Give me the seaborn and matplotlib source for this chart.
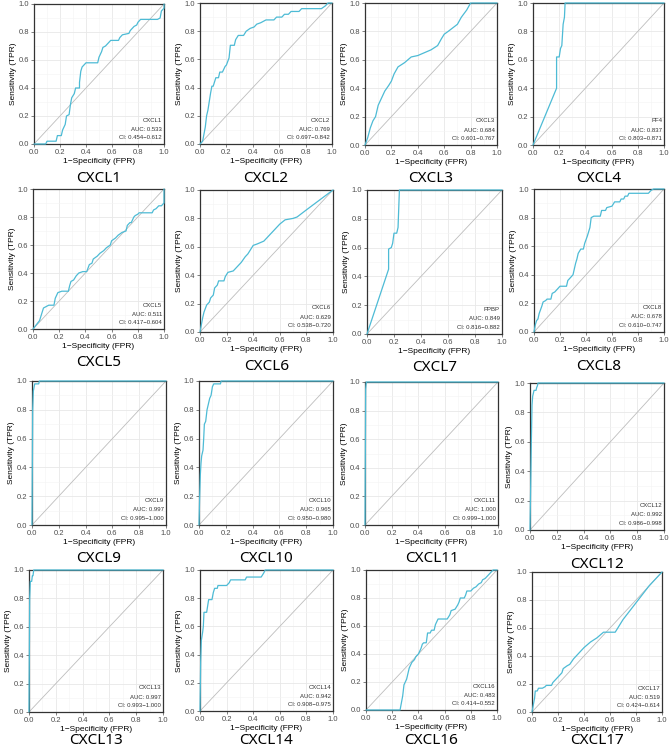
import numpy as np
import pandas as pd
import matplotlib
matplotlib.use("Agg")
import matplotlib.pyplot as plt
import seaborn as sns
from matplotlib.ticker import MultipleLocator, FormatStrFormatter

# panel titles / inner labels / stats
titles = ["CXCL1", "CXCL2", "CXCL3", "CXCL4", "CXCL5", "CXCL6", "CXCL7", "CXCL8",
          "CXCL9", "CXCL10", "CXCL11", "CXCL12", "CXCL13", "CXCL14", "CXCL16", "CXCL17"]
inner = ["CXCL1", "CXCL2", "CXCL3", "PF4", "CXCL5", "CXCL6", "PPBP", "CXCL8",
         "CXCL9", "CXCL10", "CXCL11", "CXCL12", "CXCL13", "CXCL14", "CXCL16", "CXCL17"]
auc = ["0.533", "0.769", "0.684", "0.837", "0.511", "0.629", "0.849", "0.678",
       "0.997", "0.965", "1.000", "0.992", "0.997", "0.942", "0.483", "0.519"]
ci_lo = ["0.454", "0.697", "0.601", "0.803", "0.417", "0.538", "0.816", "0.610",
         "0.995", "0.950", "0.999", "0.986", "0.993", "0.908", "0.414", "0.424"]
ci_hi = ["0.612", "0.842", "0.767", "0.871", "0.604", "0.720", "0.882", "0.747",
         "1.000", "0.980", "1.000", "0.998", "1.000", "0.975", "0.552", "0.614"]

# ROC curves (fpr, tpr)
fpr_1 = [0, 0.09, 0.10, 0.17, 0.18, 0.21, 0.22, 0.24, 0.25, 0.27, 0.28, 0.29, 0.31, 0.32, 0.35, 0.35, 0.36, 0.37, 0.39, 0.40, 0.49, 0.50, 0.52, 0.53, 0.55, 0.57, 0.59, 0.65, 0.66, 0.68, 0.73, 0.74, 0.77, 0.79, 0.80, 0.82, 0.95, 0.97, 0.98, 1.0, 1.0]
tpr_1 = [0, 0, 0.02, 0.02, 0.06, 0.06, 0.10, 0.14, 0.20, 0.21, 0.28, 0.33, 0.36, 0.40, 0.40, 0.44, 0.52, 0.55, 0.57, 0.58, 0.58, 0.62, 0.66, 0.69, 0.70, 0.72, 0.74, 0.74, 0.76, 0.78, 0.79, 0.81, 0.84, 0.85, 0.87, 0.89, 0.89, 0.90, 0.95, 0.97, 1.0]
fpr_2 = [0, 0.02, 0.03, 0.04, 0.05, 0.06, 0.07, 0.08, 0.09, 0.10, 0.11, 0.12, 0.14, 0.15, 0.17, 0.19, 0.20, 0.22, 0.23, 0.26, 0.27, 0.29, 0.33, 0.35, 0.38, 0.41, 0.43, 0.46, 0.50, 0.56, 0.58, 0.62, 0.64, 0.67, 0.69, 0.75, 0.77, 0.92, 0.95, 0.97, 1.0]
tpr_2 = [0, 0.02, 0.07, 0.12, 0.20, 0.24, 0.30, 0.36, 0.41, 0.41, 0.44, 0.47, 0.47, 0.51, 0.51, 0.55, 0.56, 0.61, 0.70, 0.70, 0.74, 0.77, 0.77, 0.80, 0.82, 0.83, 0.85, 0.86, 0.88, 0.88, 0.90, 0.90, 0.92, 0.92, 0.94, 0.94, 0.96, 0.96, 0.98, 1.0, 1.0]
fpr_3 = [0, 0.02, 0.04, 0.06, 0.08, 0.10, 0.12, 0.15, 0.18, 0.20, 0.22, 0.25, 0.30, 0.35, 0.40, 0.45, 0.50, 0.55, 0.58, 0.60, 0.63, 0.70, 0.73, 0.77, 0.80, 1.0]
tpr_3 = [0, 0.05, 0.12, 0.17, 0.20, 0.28, 0.32, 0.38, 0.42, 0.45, 0.50, 0.55, 0.58, 0.62, 0.63, 0.65, 0.67, 0.70, 0.75, 0.78, 0.80, 0.85, 0.90, 0.95, 1.0, 1.0]
fpr_4 = [0, 0.18, 0.18, 0.20, 0.21, 0.22, 0.23, 0.24, 0.245, 1.0]
tpr_4 = [0, 0.40, 0.62, 0.62, 0.68, 0.70, 0.85, 0.90, 1.0, 1.0]
fpr_5 = [0, 0.05, 0.07, 0.08, 0.12, 0.16, 0.17, 0.19, 0.22, 0.27, 0.28, 0.29, 0.31, 0.33, 0.35, 0.38, 0.41, 0.43, 0.45, 0.46, 0.49, 0.51, 0.54, 0.56, 0.59, 0.60, 0.63, 0.65, 0.68, 0.71, 0.72, 0.74, 0.75, 0.77, 0.78, 0.80, 0.81, 0.91, 0.92, 0.94, 0.96, 0.98, 1.0, 1.0]
tpr_5 = [0, 0.06, 0.12, 0.15, 0.17, 0.17, 0.22, 0.26, 0.27, 0.27, 0.31, 0.34, 0.35, 0.38, 0.40, 0.41, 0.41, 0.46, 0.47, 0.50, 0.52, 0.54, 0.56, 0.58, 0.60, 0.63, 0.65, 0.67, 0.69, 0.70, 0.74, 0.76, 0.76, 0.80, 0.81, 0.82, 0.83, 0.83, 0.85, 0.86, 0.88, 0.88, 0.90, 1.0]
fpr_6 = [0, 0.01, 0.02, 0.03, 0.05, 0.07, 0.08, 0.10, 0.11, 0.13, 0.14, 0.18, 0.19, 0.21, 0.25, 0.28, 0.31, 0.34, 0.36, 0.38, 0.40, 0.43, 0.48, 0.52, 0.56, 0.60, 0.64, 0.70, 0.73, 0.80, 0.90, 1.0]
tpr_6 = [0, 0.05, 0.10, 0.14, 0.19, 0.21, 0.24, 0.26, 0.31, 0.33, 0.36, 0.36, 0.39, 0.42, 0.43, 0.46, 0.49, 0.53, 0.55, 0.58, 0.61, 0.62, 0.64, 0.68, 0.72, 0.76, 0.79, 0.80, 0.81, 0.86, 0.93, 1.0]
fpr_7 = [0, 0.16, 0.16, 0.18, 0.19, 0.20, 0.22, 0.23, 0.24, 1.0]
tpr_7 = [0, 0.45, 0.59, 0.60, 0.63, 0.70, 0.70, 0.74, 1.0, 1.0]
fpr_8 = [0, 0.01, 0.02, 0.03, 0.04, 0.06, 0.07, 0.09, 0.10, 0.13, 0.14, 0.16, 0.18, 0.20, 0.25, 0.26, 0.28, 0.30, 0.31, 0.32, 0.33, 0.34, 0.36, 0.38, 0.39, 0.41, 0.42, 0.43, 0.44, 0.46, 0.51, 0.52, 0.55, 0.56, 0.60, 0.62, 0.66, 0.67, 0.69, 0.70, 0.72, 0.73, 0.88, 0.90, 0.92, 1.0]
tpr_8 = [0, 0.05, 0.08, 0.09, 0.13, 0.18, 0.21, 0.22, 0.23, 0.23, 0.27, 0.28, 0.30, 0.32, 0.32, 0.36, 0.38, 0.40, 0.44, 0.48, 0.51, 0.55, 0.58, 0.58, 0.62, 0.67, 0.70, 0.73, 0.80, 0.81, 0.81, 0.85, 0.85, 0.87, 0.88, 0.91, 0.91, 0.93, 0.93, 0.95, 0.95, 0.97, 0.97, 0.99, 1.0, 1.0]
fpr_9 = [0, 0.005, 0.01, 0.02, 0.05, 0.055, 1.0]
tpr_9 = [0, 0.80, 0.93, 0.98, 0.98, 1.0, 1.0]
fpr_10 = [0, 0.005, 0.01, 0.015, 0.02, 0.03, 0.035, 0.04, 0.05, 0.06, 0.07, 0.08, 0.09, 0.10, 0.11, 0.16, 0.165, 1.0]
tpr_10 = [0, 0.20, 0.35, 0.43, 0.48, 0.52, 0.60, 0.70, 0.72, 0.80, 0.84, 0.88, 0.90, 0.96, 0.98, 0.98, 1.0, 1.0]
fpr_11 = [0, 0.005, 0.01, 1.0]
tpr_11 = [0, 0.95, 1.0, 1.0]
fpr_12 = [0, 0.005, 0.01, 0.015, 0.02, 0.025, 0.03, 0.045, 0.05, 0.055, 0.06, 1.0]
tpr_12 = [0, 0.30, 0.60, 0.85, 0.91, 0.93, 0.95, 0.95, 0.97, 0.98, 1.0, 1.0]
fpr_13 = [0, 0.005, 0.01, 0.02, 0.025, 0.03, 0.035, 1.0]
tpr_13 = [0, 0.80, 0.92, 0.92, 0.96, 0.96, 1.0, 1.0]
fpr_14 = [0, 0.005, 0.01, 0.02, 0.025, 0.03, 0.05, 0.06, 0.065, 0.09, 0.10, 0.11, 0.13, 0.135, 0.20, 0.22, 0.23, 0.34, 0.35, 0.46, 0.48, 0.49, 1.0]
tpr_14 = [0, 0.35, 0.50, 0.56, 0.60, 0.70, 0.70, 0.76, 0.79, 0.79, 0.84, 0.87, 0.87, 0.89, 0.89, 0.91, 0.93, 0.93, 0.95, 0.95, 0.98, 1.0, 1.0]
fpr_16 = [0, 0.26, 0.27, 0.28, 0.29, 0.30, 0.31, 0.32, 0.33, 0.35, 0.37, 0.38, 0.40, 0.41, 0.42, 0.43, 0.44, 0.46, 0.47, 0.49, 0.50, 0.52, 0.53, 0.55, 0.62, 0.64, 0.65, 0.68, 0.70, 0.71, 0.72, 0.75, 0.76, 0.77, 0.80, 0.82, 0.84, 0.86, 0.88, 0.89, 0.91, 0.93, 0.95, 0.97, 1.0]
tpr_16 = [0, 0, 0.05, 0.10, 0.18, 0.20, 0.22, 0.26, 0.30, 0.34, 0.36, 0.38, 0.40, 0.42, 0.44, 0.47, 0.48, 0.48, 0.55, 0.55, 0.57, 0.57, 0.61, 0.65, 0.65, 0.68, 0.71, 0.72, 0.75, 0.77, 0.80, 0.80, 0.82, 0.85, 0.85, 0.87, 0.88, 0.90, 0.91, 0.93, 0.94, 0.96, 0.98, 1.0, 1.0]
fpr_17 = [0, 0.01, 0.02, 0.025, 0.04, 0.05, 0.08, 0.10, 0.11, 0.15, 0.16, 0.18, 0.21, 0.23, 0.24, 0.27, 0.29, 0.32, 0.36, 0.40, 0.45, 0.50, 0.55, 0.57, 0.64, 0.70, 0.80, 0.90, 1.0]
tpr_17 = [0, 0.05, 0.10, 0.15, 0.15, 0.17, 0.17, 0.18, 0.19, 0.19, 0.21, 0.23, 0.26, 0.28, 0.31, 0.33, 0.34, 0.38, 0.42, 0.46, 0.50, 0.53, 0.57, 0.57, 0.57, 0.66, 0.78, 0.90, 1.0]

fprs = [fpr_1, fpr_2, fpr_3, fpr_4, fpr_5, fpr_6, fpr_7, fpr_8,
        fpr_9, fpr_10, fpr_11, fpr_12, fpr_13, fpr_14, fpr_16, fpr_17]
tprs = [tpr_1, tpr_2, tpr_3, tpr_4, tpr_5, tpr_6, tpr_7, tpr_8,
        tpr_9, tpr_10, tpr_11, tpr_12, tpr_13, tpr_14, tpr_16, tpr_17]

# panel boxes in pixels (left, top, right, bottom) - the original is a collage
boxes = [(34, 4, 164, 144), (200, 3, 332, 144), (365, 3, 497, 145), (533, 3, 664, 145),
         (33, 189, 164, 329), (200, 190, 333, 332), (367, 190, 502, 334), (534, 189, 664, 332),
         (32, 381, 166, 525), (199, 381, 333, 525), (365, 382, 498, 525), (530, 383, 664, 530),
         (29, 570, 163, 712), (200, 570, 333, 711), (366, 570, 497, 710), (532, 572, 662, 712)]

W, H = 670, 752
sns.set_theme(style="white")
plt.rcParams['font.family'] = ['Liberation Sans', 'DejaVu Sans']
plt.rcParams['axes.unicode_minus'] = True

fig = plt.figure(figsize=(W / 100, H / 100), dpi=100)
fig.patch.set_facecolor('white')

for i in range(16):
    l, t, r, b = boxes[i]
    ax = fig.add_axes([l / W, 1 - b / H, (r - l) / W, (b - t) / H])
    ax.set_facecolor('white')
    ax.set_xlim(0, 1)
    ax.set_ylim(0, 1)
    for a in (ax.xaxis, ax.yaxis):
        a.set_major_locator(MultipleLocator(0.2))
        a.set_minor_locator(MultipleLocator(0.1))
        a.set_major_formatter(FormatStrFormatter('%.1f'))
    ax.grid(which='major', color='#E8E8E8', lw=0.6)
    ax.grid(which='minor', color='#F3F3F3', lw=0.4)
    ax.set_axisbelow(True)
    ax.axline((0, 0), slope=1, color='#BDBDBD', lw=0.6, zorder=1.5)

    df = pd.DataFrame({'fpr': fprs[i], 'tpr': tprs[i]})
    sns.lineplot(data=df, x='fpr', y='tpr', ax=ax, color='#4DBBD5', lw=0.9,
                 estimator=None, sort=False, zorder=3)
    ax.lines[-1].set_clip_on(False)

    ax.text(0.985, 0.17, inner[i], transform=ax.transAxes, ha='right', va='center',
            fontsize=4.3, color='#333333')
    ax.text(0.985, 0.105, 'AUC: ' + auc[i], transform=ax.transAxes, ha='right', va='center',
            fontsize=4.3, color='#333333')
    ax.text(0.985, 0.045, 'CI: ' + ci_lo[i] + '\u2212' + ci_hi[i], transform=ax.transAxes,
            ha='right', va='center', fontsize=4.3, color='#333333')

    ax.tick_params(which='major', length=2, width=0.5, pad=1.5, labelsize=5.5,
                   colors='#4D4D4D', bottom=True, left=True)
    ax.tick_params(which='minor', length=0)
    ax.set_xlabel('1\u2212Specificity (FPR)', fontsize=6, labelpad=1.5, color='black')
    ax.set_ylabel('Sensitivity (TPR)', fontsize=6, labelpad=1.5, color='black')
    for s in ax.spines.values():
        s.set_color('#333333')
        s.set_linewidth(0.9)

    ty = min(b + 34, 741)
    fig.text((l + r) / 2 / W, 1 - ty / H, titles[i], ha='center', va='center',
             fontsize=11, color='black', family=['Noto Sans', 'DejaVu Sans'])

fig.savefig('out.png', dpi=100, facecolor='white')
